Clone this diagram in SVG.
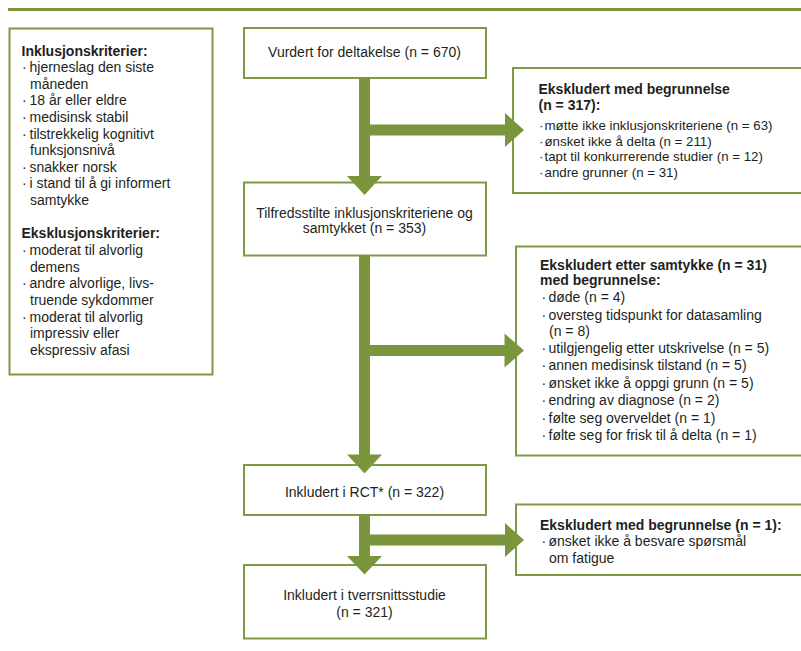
<svg xmlns="http://www.w3.org/2000/svg" width="801" height="651" viewBox="0 0 801 651">
<style>
.box{fill:#fff;stroke:#7d9a45;stroke-width:2}
.t{font-family:"Liberation Sans",Arial,sans-serif;font-size:14px;fill:#231f20}
.s{font-size:13.3px}
.b{font-weight:bold}
.c{text-anchor:middle}
.arr{fill:#7a953b}
</style>
<rect x="0" y="0" width="801" height="651" fill="#fff"/>
<rect x="8" y="8" width="793" height="3" fill="#7a953b"/>
<g id="criteria">
<rect class="box" x="9.5" y="28.5" width="203" height="346"/>
<text class="t b" x="21.5" y="55.5">Inklusjonskriterier:</text>
<text class="t" x="22" y="72.1">·<tspan x="29.5">hjerneslag den siste</tspan></text>
<text class="t" x="30" y="88.7">måneden</text>
<text class="t" x="22" y="105.3">·<tspan x="29.5">18 år eller eldre</tspan></text>
<text class="t" x="22" y="121.9">·<tspan x="29.5">medisinsk stabil</tspan></text>
<text class="t" x="22" y="138.5">·<tspan x="29.5">tilstrekkelig kognitivt</tspan></text>
<text class="t" x="30" y="155.1">funksjonsnivå</text>
<text class="t" x="22" y="171.7">·<tspan x="29.5">snakker norsk</tspan></text>
<text class="t" x="22" y="188.3">·<tspan x="29.5">i stand til å gi informert</tspan></text>
<text class="t" x="30" y="204.9">samtykke</text>
<text class="t b" x="21.5" y="238.3">Eksklusjonskriterier:</text>
<text class="t" x="22" y="255">·<tspan x="29.5">moderat til alvorlig</tspan></text>
<text class="t" x="30" y="271.7">demens</text>
<text class="t" x="22" y="288.3">·<tspan x="29.5">andre alvorlige, livs-</tspan></text>
<text class="t" x="30" y="305">truende sykdommer</text>
<text class="t" x="22" y="321.7">·<tspan x="29.5">moderat til alvorlig</tspan></text>
<text class="t" x="30" y="338.3">impressiv eller</text>
<text class="t" x="30" y="355">ekspressiv afasi</text>
</g>
<g id="assessed">
<rect class="box" x="244" y="28" width="242" height="50"/>
<text class="t c" x="364.5" y="56.5">Vurdert for deltakelse (n = 670)</text>
</g>
<g id="eligible">
<rect class="box" x="244" y="182.5" width="242" height="73"/>
<text class="t c" x="364.5" y="218">Tilfredsstilte inklusjonskriteriene og</text>
<text class="t c" x="364.5" y="232.5">samtykket (n = 353)</text>
</g>
<g id="rct">
<rect class="box" x="244" y="465" width="242" height="50"/>
<text class="t c" x="364.5" y="496.5">Inkludert i RCT* (n = 322)</text>
</g>
<g id="crosssectional">
<rect class="box" x="244" y="565" width="242" height="73.5"/>
<text class="t c" x="364.5" y="599.5">Inkludert i tverrsnittsstudie</text>
<text class="t c" x="364.5" y="616.5">(n = 321)</text>
</g>
<g id="excluded1">
<rect class="box" x="513" y="68" width="300" height="125"/>
<text class="t b" x="538.5" y="94">Ekskludert med begrunnelse</text>
<text class="t b" x="538.5" y="110">(n = 317):</text>
<text class="t s" x="539" y="129.5">·<tspan x="544.5">møtte ikke inklusjonskriteriene (n = 63)</tspan></text>
<text class="t s" x="539" y="145.5">·<tspan x="544.5">ønsket ikke å delta (n = 211)</tspan></text>
<text class="t s" x="539" y="161">·<tspan x="544.5">tapt til konkurrerende studier (n = 12)</tspan></text>
<text class="t s" x="539" y="176.5">·<tspan x="544.5">andre grunner (n = 31)</tspan></text>
</g>
<g id="excluded2">
<rect class="box" x="516" y="246.5" width="300" height="209"/>
<text class="t b" x="540" y="270">Ekskludert etter samtykke (n = 31)</text>
<text class="t b" x="540" y="285">med begrunnelse:</text>
<text class="t" x="541.5" y="302.2">·<tspan x="548.5">døde (n = 4)</tspan></text>
<text class="t" x="541.5" y="320">·<tspan x="548.5">oversteg tidspunkt for datasamling</tspan></text>
<text class="t" x="549" y="336">(n = 8)</text>
<text class="t" x="541.5" y="353.2">·<tspan x="548.5">utilgjengelig etter utskrivelse (n = 5)</tspan></text>
<text class="t" x="541.5" y="370.4">·<tspan x="548.5">annen medisinsk tilstand (n = 5)</tspan></text>
<text class="t" x="541.5" y="387.7">·<tspan x="548.5">ønsket ikke å oppgi grunn (n = 5)</tspan></text>
<text class="t" x="541.5" y="405">·<tspan x="548.5">endring av diagnose (n = 2)</tspan></text>
<text class="t" x="541.5" y="422.5">·<tspan x="548.5">følte seg overveldet (n = 1)</tspan></text>
<text class="t" x="541.5" y="439.6">·<tspan x="548.5">følte seg for frisk til å delta (n = 1)</tspan></text>
</g>
<g id="excluded3">
<rect class="box" x="516" y="504.5" width="300" height="70.5"/>
<text class="t b" x="540" y="529.5">Ekskludert med begrunnelse (n = 1):</text>
<text class="t" x="541.5" y="546">·<tspan x="548.5">ønsket ikke å besvare spørsmål</tspan></text>
<text class="t" x="549" y="562.7">om fatigue</text>
</g>
<g id="connectors" class="arr">
<rect x="359" y="77" width="11" height="100"/>
<polygon points="347,176 382,176 364.5,195"/>
<rect x="364" y="124.5" width="142" height="11"/>
<polygon points="505,113 505,147 524,130"/>
<rect x="359" y="255" width="11" height="200.5"/>
<polygon points="347,454.5 382,454.5 364.5,473.5"/>
<rect x="364" y="345" width="142" height="11"/>
<polygon points="504.5,333.5 504.5,367.5 524,350.5"/>
<rect x="359" y="514" width="11" height="43"/>
<polygon points="347,556 382,556 364.5,574.5"/>
<rect x="364" y="534.5" width="142" height="11"/>
<polygon points="505,523 505,557 524,540"/>
</g>
</svg>
